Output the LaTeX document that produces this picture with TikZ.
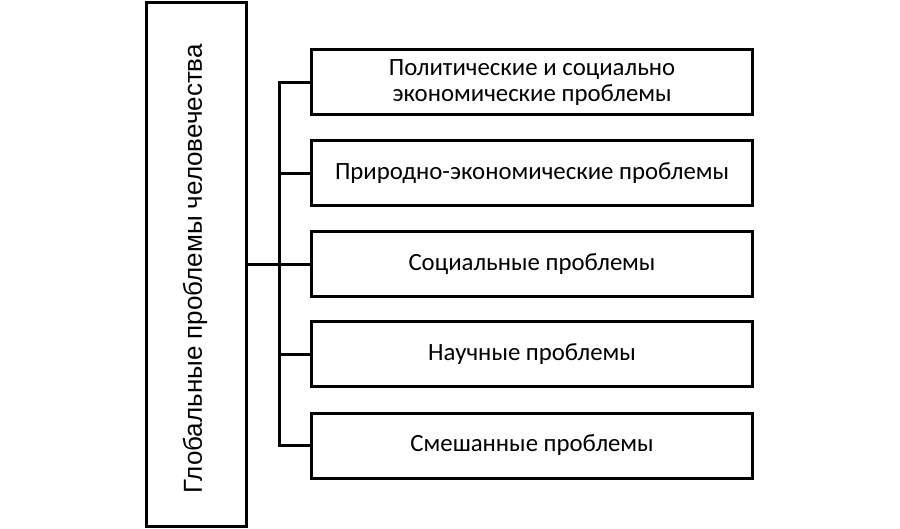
\documentclass[tikz,border=0pt]{standalone}
\usepackage{fontspec}
\setmainfont{Carlito}
\newfontfamily\vfont{Liberation Sans}
\begin{document}
\begin{tikzpicture}[x=1pt,y=-1pt,
  box/.style={draw=black,line width=3pt,minimum width=441pt,minimum height=65pt,align=center,inner sep=0pt,font=\fontsize{24.8}{25.5}\selectfont},
  conn/.style={line width=3pt}]
\useasboundingbox (0,0) rectangle (900,529);
\node[draw=black,line width=3pt,minimum width=100pt,minimum height=523pt,inner sep=0pt] (main) at (196,264.5) {};
\node[rotate=90,font=\vfont\fontsize{26}{30}\selectfont] (mt) at (195,269) {Глобальные проблемы человечества};
\node[box] (b1) at (532,82.5) {Политические и социально\\экономические проблемы};
\node[box] (b2) at (532,173.5) {Природно-экономические проблемы};
\node[box] (b3) at (532,264.5) {Социальные проблемы};
\node[box] (b4) at (532,354.5) {Научные проблемы};
\node[box] (b5) at (532,445.5) {Смешанные проблемы};
\coordinate (j) at (279,264.5);
\draw[conn] (main.east |- j) -- (j);
\draw[conn] (b1.west) -| (j) |- (b5.west);
\draw[conn] (j |- b2.west) -- (b2.west);
\draw[conn] (j) -- (b3.west);
\draw[conn] (j |- b4.west) -- (b4.west);
\end{tikzpicture}
\end{document}
